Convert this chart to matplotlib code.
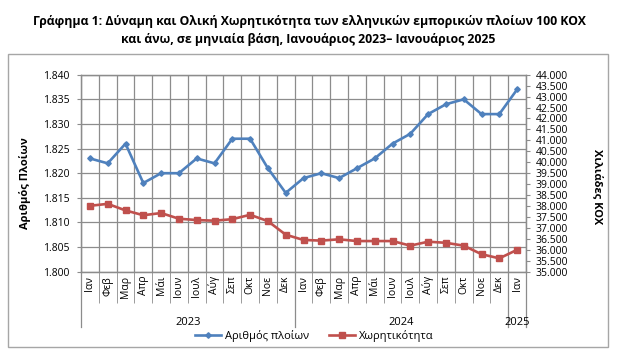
import numpy as np
import matplotlib
matplotlib.use("Agg")
import matplotlib.pyplot as plt
import matplotlib.ticker as mticker
from matplotlib.patches import Rectangle
from matplotlib.lines import Line2D

plt.rcParams["font.family"] = ["Open Sans", "DejaVu Sans"]

# δεδομένα
months = ["Ιαν", "Φεβ", "Μαρ", "Απρ", "Μάι", "Ιουν", "Ιουλ", "Αύγ", "Σεπ", "Οκτ", "Νοε", "Δεκ"] * 2 + ["Ιαν"]
years = ["2023", "2024", "2025"]
year_len = [12, 12, 1]
ships = [1823, 1822, 1826, 1818, 1820, 1820, 1823, 1822, 1827, 1827, 1821, 1816,
         1819, 1820, 1819, 1821, 1823, 1826, 1828, 1832, 1834, 1835, 1832, 1832, 1837]
tonnage = [38010, 38100, 37800, 37580, 37680, 37420, 37360, 37330, 37400, 37600, 37310, 36690,
           36450, 36420, 36480, 36400, 36400, 36400, 36190, 36370, 36320, 36190, 35800, 35610, 36000]

blue = "#4F81BD"
red = "#C0504D"
grid_c = "#8c8c8c"

W, H = 627, 359
fig = plt.figure(figsize=(W / 100, H / 100), dpi=100)
ax = fig.add_axes([81 / W, 1 - 271.7 / H, (526 - 81) / W, 197 / H])
ax2 = ax.twinx()

x = np.arange(len(months))
ax.plot(x, ships, color=blue, lw=1.9, marker="D", ms=2.8, label="Αριθμός πλοίων", zorder=3)
ax2.plot(x, tonnage, color=red, lw=1.9, marker="s", ms=4.5, label="Χωρητικότητα", zorder=3)

fmt = mticker.FuncFormatter(lambda v, p: f"{v:,.0f}".replace(",", "."))

ax.set_xlim(-0.5, len(months) - 0.5)
ax.set_ylim(1800, 1840)
ax.set_yticks(np.arange(1800, 1841, 5))
ax.yaxis.set_major_formatter(fmt)
ax2.set_ylim(35000, 44000)
ax2.set_yticks(np.arange(35000, 44001, 500))
ax2.yaxis.set_major_formatter(fmt)

ax.set_xticks(x)
ax.set_xticklabels(months, rotation=90, fontsize=7.5)
ax.set_xticks(np.arange(-0.5, len(months), 1), minor=True)
ax.tick_params(axis="x", which="major", length=0, pad=3)
ax.tick_params(axis="x", which="minor", length=22, color=grid_c, direction="out")
ax.tick_params(axis="y", length=3, pad=5, color=grid_c, labelsize=7.5)
ax2.tick_params(axis="y", length=3, pad=4, color=grid_c, labelsize=7.5)

ax.grid(axis="x", which="minor", color=grid_c, lw=0.9)
ax.grid(axis="y", which="major", color=grid_c, lw=0.9)
ax.set_axisbelow(True)
for a in (ax, ax2):
    for s in a.spines.values():
        s.set_color(grid_c)
        s.set_linewidth(0.9)

# ομάδες ετών
start = 0
for yr, n in zip(years, year_len):
    ax.plot([start - 0.5, start - 0.5], [0, -0.28], transform=ax.get_xaxis_transform(),
            clip_on=False, color=grid_c, lw=0.9)
    ax.text(start + (n - 1) / 2, -0.26, yr, transform=ax.get_xaxis_transform(),
            ha="center", va="center", fontsize=8)
    start += n
ax.plot([start - 0.5, start - 0.5], [0, -0.28], transform=ax.get_xaxis_transform(),
        clip_on=False, color=grid_c, lw=0.9)

fig.text(25 / W, 1 - 183 / H, "Αριθμός Πλοίων", rotation=90, ha="center", va="center",
         fontsize=8, fontweight="bold")
fig.text(597 / W, 1 - 187 / H, "Χιλιάδες ΚΟΧ", rotation=270, ha="center", va="center",
         fontsize=8, fontweight="bold")

fig.text(309 / W, 1 - 21 / H, "Γράφημα 1: Δύναμη και Ολική Χωρητικότητα των ελληνικών εμπορικών πλοίων 100 ΚΟΧ",
         ha="center", va="center", fontsize=8.8, fontweight="bold")
fig.text(308 / W, 1 - 39 / H, "και άνω, σε μηνιαία βάση, Ιανουάριος 2023– Ιανουάριος 2025",
         ha="center", va="center", fontsize=8.8, fontweight="bold")

handles = [Line2D([], [], color=blue, lw=1.9, marker="D", ms=2.8),
           Line2D([], [], color=red, lw=1.9, marker="s", ms=4.5)]
fig.legend(handles, ["Αριθμός πλοίων", "Χωρητικότητα"], loc="center",
           bbox_to_anchor=(314 / W, 1 - 336 / H), ncol=2, frameon=False, fontsize=8,
           handlelength=2.4, handletextpad=0.3, columnspacing=1.8)

fig.add_artist(Rectangle((8.3 / W, 1 - 346.7 / H), (608 - 8.3) / W, (346.7 - 54.3) / H,
                         transform=fig.transFigure, fill=False, edgecolor="#a6a6a6", lw=1))

fig.savefig("out.png", dpi=100)
